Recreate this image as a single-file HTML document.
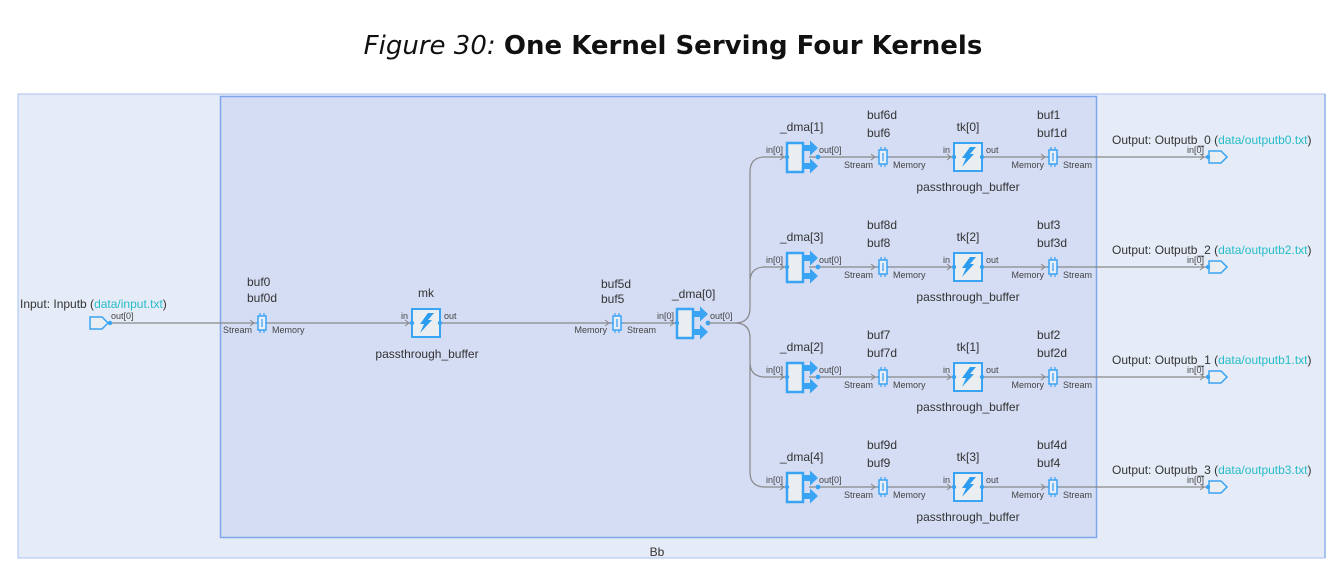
<!DOCTYPE html>
<html><head><meta charset="utf-8"><style>
html,body{margin:0;padding:0;background:#fff;width:1339px;height:576px;overflow:hidden}
svg{display:block;font-family:"Liberation Sans","DejaVu Sans",sans-serif}
.l{font-size:12px;fill:#333}
.s{font-size:9px;fill:#444}
.c{fill:#26bcc9}
.w{stroke:#888;stroke-width:1.2;fill:none}
</style></head><body>
<svg width="1339" height="576" viewBox="0 0 1339 576" xmlns="http://www.w3.org/2000/svg">
<defs>
<g id="buf">
<rect x="-4" y="-7" width="8" height="14" fill="#e8eef8" stroke="#3aa4f4" stroke-width="1.5"/>
<line x1="0" y1="-4" x2="0" y2="4" stroke="#3aa4f4" stroke-width="1.3"/>
<path d="M-2 -7v-3M2 -7v-3M-2 7v3M2 7v3M-4 0h-2M4 0h2" stroke="#3aa4f4" stroke-width="1.2"/>
<path d="M-12 -3l4 3l-4 3" stroke="#888" fill="none"/>
</g>
<g id="ker">
<rect x="0" y="-14" width="28" height="28" fill="#ebeef0" stroke="#3aa4f4" stroke-width="2"/>
<path d="M16 -10H22L16 -3H20L8 10L12 1H8Z" fill="#2b9cf0"/>
<circle cx="0" cy="0" r="2.2" fill="#3aa4f4"/><circle cx="28" cy="0" r="2.2" fill="#3aa4f4"/>
<path d="M-7 -3l4 3l-4 3" stroke="#888" fill="none"/>
</g>
<g id="dma">
<rect x="0" y="-14" width="16" height="29" fill="#ebeef0" stroke="#3aa4f4" stroke-width="2.5"/>
<path d="M17 -12h6v-4.5l8 7.5l-8 7.5v-4.5h-6zM17 6h6v-4.5l8 7.5l-8 7.5v-4.5h-6z" fill="#3aa4f4"/>
<circle cx="0" cy="0" r="2.2" fill="#3aa4f4"/><circle cx="31" cy="0" r="2.4" fill="#3aa4f4"/>
<path d="M-7 -3l4 3l-4 3" stroke="#888" fill="none"/>
</g>
<g id="outp">
<path d="M0 -6h12l6 6l-6 6h-12z" fill="#ebeef0" stroke="#3aa4f4" stroke-width="1.5"/>
<circle cx="-1" cy="0" r="2.2" fill="#3aa4f4"/>
<path d="M-9 -3l4 3l-4 3" stroke="#888" fill="none"/>
</g>
</defs>
<text x="673" y="54" text-anchor="middle" style="font-size:26px;fill:#111;font-family:'DejaVu Sans',sans-serif"><tspan font-style="italic">Figure 30:</tspan> <tspan font-weight="bold">One Kernel Serving Four Kernels</tspan></text>
<rect x="18" y="94" width="1307" height="464" fill="#e6ecf7" stroke="#a8c2ef"/>
<line x1="1325" y1="94" x2="1325" y2="558" stroke="#8fb0ea" stroke-width="1.5"/>
<rect x="220.5" y="96.5" width="876" height="441" fill="#d5ddf4" stroke="#7fa6ea" stroke-width="1.5"/>
<text x="657" y="556" text-anchor="middle" class="l">Bb</text>

<path class="w" d="M110 323H677"/>
<path d="M90 317h12l6 6l-6 6h-12z" fill="#ebeef0" stroke="#3aa4f4" stroke-width="1.5"/>
<circle cx="110" cy="323" r="2.2" fill="#3aa4f4"/>
<text x="20" y="308" class="l">Input: Inputb (<tspan class="c">data/input.txt</tspan>)</text>
<text x="111" y="319" class="s">out[0]</text>
<use href="#buf" x="262" y="323"/>
<text x="247" y="286" class="l">buf0</text><text x="247" y="302" class="l">buf0d</text>
<text x="252" y="333" class="s" text-anchor="end">Stream</text><text x="272" y="333" class="s">Memory</text>
<use href="#ker" x="412" y="323"/>
<text x="426" y="297" class="l" text-anchor="middle">mk</text>
<text x="401" y="319" class="s">in</text><text x="444" y="319" class="s">out</text>
<text x="427" y="358" class="l" text-anchor="middle">passthrough_buffer</text>
<use href="#buf" x="617" y="323"/>
<text x="601" y="288" class="l">buf5d</text><text x="601" y="303" class="l">buf5</text>
<text x="607" y="333" class="s" text-anchor="end">Memory</text><text x="627" y="333" class="s">Stream</text>
<use href="#dma" x="677" y="323"/>
<text x="672" y="298" class="l">_dma[0]</text>
<text x="657" y="319" class="s">in[0]</text><text x="710" y="319" class="s">out[0]</text>
<path class="w" d="M708 323H735Q750 323 750 308V172Q750 157 765 157H787M735 323Q750 323 750 308V282Q750 267 765 267H787M735 323Q750 323 750 338V362Q750 377 765 377H787M735 323Q750 323 750 338V472Q750 487 765 487H787"/>

<g transform="translate(0,157)">
<path class="w" d="M809 0H954M982 0H1207"/>
<use href="#dma" x="787" y="0"/><use href="#buf" x="883" y="0"/><use href="#ker" x="954" y="0"/><use href="#buf" x="1053" y="0"/><use href="#outp" x="1209" y="0"/>
<text x="780" y="-26" class="l">_dma[1]</text>
<text x="766" y="-4" class="s">in[0]</text><text x="819" y="-4" class="s">out[0]</text>
<text x="867" y="-38" class="l">buf6d</text><text x="867" y="-20" class="l">buf6</text>
<text x="873" y="11" class="s" text-anchor="end">Stream</text><text x="893" y="11" class="s">Memory</text>
<text x="968" y="-26" class="l" text-anchor="middle">tk[0]</text>
<text x="943" y="-4" class="s">in</text><text x="986" y="-4" class="s">out</text>
<text x="968" y="34" class="l" text-anchor="middle">passthrough_buffer</text>
<text x="1037" y="-38" class="l">buf1</text><text x="1037" y="-20" class="l">buf1d</text>
<text x="1044" y="11" class="s" text-anchor="end">Memory</text><text x="1063" y="11" class="s">Stream</text>
<text x="1187" y="-4" class="s">in[0]</text>
<text x="1112" y="-13" class="l">Output: Outputb_0 (<tspan class="c">data/outputb0.txt</tspan>)</text>
</g>
<g transform="translate(0,267)">
<path class="w" d="M809 0H954M982 0H1207"/>
<use href="#dma" x="787" y="0"/><use href="#buf" x="883" y="0"/><use href="#ker" x="954" y="0"/><use href="#buf" x="1053" y="0"/><use href="#outp" x="1209" y="0"/>
<text x="780" y="-26" class="l">_dma[3]</text>
<text x="766" y="-4" class="s">in[0]</text><text x="819" y="-4" class="s">out[0]</text>
<text x="867" y="-38" class="l">buf8d</text><text x="867" y="-20" class="l">buf8</text>
<text x="873" y="11" class="s" text-anchor="end">Stream</text><text x="893" y="11" class="s">Memory</text>
<text x="968" y="-26" class="l" text-anchor="middle">tk[2]</text>
<text x="943" y="-4" class="s">in</text><text x="986" y="-4" class="s">out</text>
<text x="968" y="34" class="l" text-anchor="middle">passthrough_buffer</text>
<text x="1037" y="-38" class="l">buf3</text><text x="1037" y="-20" class="l">buf3d</text>
<text x="1044" y="11" class="s" text-anchor="end">Memory</text><text x="1063" y="11" class="s">Stream</text>
<text x="1187" y="-4" class="s">in[0]</text>
<text x="1112" y="-13" class="l">Output: Outputb_2 (<tspan class="c">data/outputb2.txt</tspan>)</text>
</g>
<g transform="translate(0,377)">
<path class="w" d="M809 0H954M982 0H1207"/>
<use href="#dma" x="787" y="0"/><use href="#buf" x="883" y="0"/><use href="#ker" x="954" y="0"/><use href="#buf" x="1053" y="0"/><use href="#outp" x="1209" y="0"/>
<text x="780" y="-26" class="l">_dma[2]</text>
<text x="766" y="-4" class="s">in[0]</text><text x="819" y="-4" class="s">out[0]</text>
<text x="867" y="-38" class="l">buf7</text><text x="867" y="-20" class="l">buf7d</text>
<text x="873" y="11" class="s" text-anchor="end">Stream</text><text x="893" y="11" class="s">Memory</text>
<text x="968" y="-26" class="l" text-anchor="middle">tk[1]</text>
<text x="943" y="-4" class="s">in</text><text x="986" y="-4" class="s">out</text>
<text x="968" y="34" class="l" text-anchor="middle">passthrough_buffer</text>
<text x="1037" y="-38" class="l">buf2</text><text x="1037" y="-20" class="l">buf2d</text>
<text x="1044" y="11" class="s" text-anchor="end">Memory</text><text x="1063" y="11" class="s">Stream</text>
<text x="1187" y="-4" class="s">in[0]</text>
<text x="1112" y="-13" class="l">Output: Outputb_1 (<tspan class="c">data/outputb1.txt</tspan>)</text>
</g>
<g transform="translate(0,487)">
<path class="w" d="M809 0H954M982 0H1207"/>
<use href="#dma" x="787" y="0"/><use href="#buf" x="883" y="0"/><use href="#ker" x="954" y="0"/><use href="#buf" x="1053" y="0"/><use href="#outp" x="1209" y="0"/>
<text x="780" y="-26" class="l">_dma[4]</text>
<text x="766" y="-4" class="s">in[0]</text><text x="819" y="-4" class="s">out[0]</text>
<text x="867" y="-38" class="l">buf9d</text><text x="867" y="-20" class="l">buf9</text>
<text x="873" y="11" class="s" text-anchor="end">Stream</text><text x="893" y="11" class="s">Memory</text>
<text x="968" y="-26" class="l" text-anchor="middle">tk[3]</text>
<text x="943" y="-4" class="s">in</text><text x="986" y="-4" class="s">out</text>
<text x="968" y="34" class="l" text-anchor="middle">passthrough_buffer</text>
<text x="1037" y="-38" class="l">buf4d</text><text x="1037" y="-20" class="l">buf4</text>
<text x="1044" y="11" class="s" text-anchor="end">Memory</text><text x="1063" y="11" class="s">Stream</text>
<text x="1187" y="-4" class="s">in[0]</text>
<text x="1112" y="-13" class="l">Output: Outputb_3 (<tspan class="c">data/outputb3.txt</tspan>)</text>
</g>
</svg>
</body></html>
